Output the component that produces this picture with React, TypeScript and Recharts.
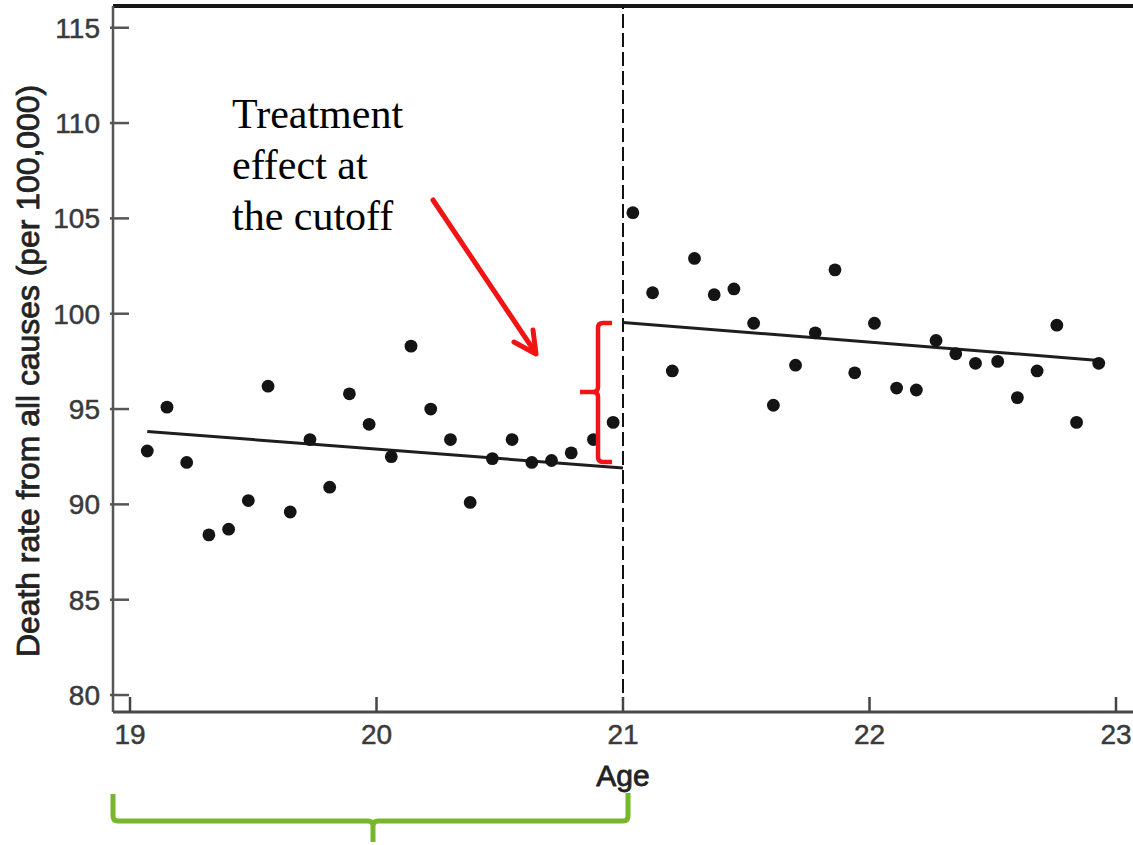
import React from 'react';
import { ScatterChart, Scatter, XAxis, YAxis, ReferenceLine } from 'recharts';

// binned death rates, 30-day cells on each side of the 21st birthday
const leftAge = [19.07, 19.15, 19.23, 19.32, 19.40, 19.48, 19.56, 19.65, 19.73, 19.81, 19.89, 19.97,
  20.06, 20.14, 20.22, 20.30, 20.38, 20.47, 20.55, 20.63, 20.71, 20.79, 20.88, 20.96];
const leftRate = [92.8, 95.1, 92.2, 88.4, 88.7, 90.2, 96.2, 89.6, 93.4, 90.9, 95.8, 94.2,
  92.5, 98.3, 95.0, 93.4, 90.1, 92.4, 93.4, 92.2, 92.3, 92.7, 93.4, 94.3];

const rightAge = [21.04, 21.12, 21.20, 21.29, 21.37, 21.45, 21.53, 21.61, 21.70, 21.78, 21.86, 21.94,
  22.02, 22.11, 22.19, 22.27, 22.35, 22.43, 22.52, 22.60, 22.68, 22.76, 22.84, 22.93];
const rightRate = [105.3, 101.1, 97.0, 102.9, 101.0, 101.3, 99.5, 95.2, 97.3, 99.0, 102.3, 96.9,
  99.5, 96.1, 96.0, 98.6, 97.9, 97.4, 97.5, 95.6, 97.0, 99.4, 94.3, 97.4];

// fitted lines (end points)
const fitLeftAge = [19.07, 21.0];
const fitLeftRate = [93.82, 91.91];
const fitRightAge = [21.0, 22.93];
const fitRightRate = [99.54, 97.55];

const xTicks = [19, 20, 21, 22, 23];
const yTicks = [80, 85, 90, 95, 100, 105, 110, 115];
const cutoff = 21;

const toPoints = (xs: number[], ys: number[]) => xs.map((age, i) => ({ age, rate: ys[i] }));

const W = 1133;
const H = 845;
const TOP = 6;
const LEFT = 113;
const X_AXIS_H = 133;
const X_DOMAIN: [number, number] = [18.931, 23.069];
const Y_DOMAIN: [number, number] = [79.11, 116.14];

const Dot = (p: any) => <circle cx={p.cx} cy={p.cy} r={6.4} fill="#141414" />;
const NoDot = () => <g />;

const YTick = (p: any) => (
  <g>
    <line x1={p.x - 3} x2={p.x + 16} y1={p.y} y2={p.y} stroke="#555" strokeWidth={2.5} />
    <text x={p.x - 13} y={p.y} dy="0.35em" textAnchor="end" fontSize={28} fill="#3a3a3a"
      stroke="#3a3a3a" strokeWidth={0.5}>
      {p.payload.value}
    </text>
  </g>
);

const XTick = (p: any) => (
  <g>
    <line x1={p.x} x2={p.x} y1={p.y} y2={p.y - 15} stroke="#444" strokeWidth={2.5} />
    <text x={p.x} y={p.y + 32} textAnchor="middle" fontSize={28} fill="#3a3a3a"
      stroke="#3a3a3a" strokeWidth={0.5}>
      {p.payload.value}
    </text>
  </g>
);

export default function App() {
  return (
    <div style={{ position: 'absolute', left: 0, top: 0, width: W, height: H, background: '#fff',
      fontFamily: '"Liberation Sans", Arial, sans-serif' }}>
      <ScatterChart width={W} height={H} margin={{ top: TOP, right: 0, bottom: 0, left: 0 }}>
        <XAxis dataKey="age" type="number" domain={X_DOMAIN} allowDataOverflow ticks={xTicks}
          interval={0} height={X_AXIS_H} tickSize={0} tickMargin={0} tickLine={false}
          axisLine={{ stroke: '#4a4a4a', strokeWidth: 3 }} tick={<XTick />}
          label={{
            content: (lp: any) => (
              <text x={lp.viewBox.x + lp.viewBox.width / 2} y={lp.viewBox.y + 74} textAnchor="middle"
                fontSize={30} fill="#222" stroke="#222" strokeWidth={0.8}>Age</text>
            ),
          }} />
        <YAxis dataKey="rate" type="number" domain={Y_DOMAIN} allowDataOverflow ticks={yTicks}
          interval={0} width={LEFT} tickSize={0} tickMargin={0} tickLine={false}
          axisLine={{ stroke: '#555', strokeWidth: 2.5 }} tick={<YTick />}
          label={{
            content: (lp: any) => {
              const cy = lp.viewBox.y + lp.viewBox.height / 2 + 12;
              return (
                <text x={39} y={cy} transform={`rotate(-90 39 ${cy})`} textAnchor="middle"
                  fontSize={31} fill="#222" stroke="#222" strokeWidth={0.8}
                  textLength={572} lengthAdjust="spacingAndGlyphs">
                  Death rate from all causes (per 100,000)
                </text>
              );
            },
          }} />
        <ReferenceLine y={Y_DOMAIN[1]} stroke="#161616" strokeWidth={4} />
        <ReferenceLine x={cutoff} stroke="#111" strokeWidth={2} strokeDasharray="14 5" />
        <Scatter data={toPoints(fitLeftAge, fitLeftRate)} line={{ stroke: '#1e1e1e', strokeWidth: 3 }}
          shape={<NoDot />} isAnimationActive={false} />
        <Scatter data={toPoints(fitRightAge, fitRightRate)} line={{ stroke: '#1e1e1e', strokeWidth: 3 }}
          shape={<NoDot />} isAnimationActive={false} />
        <Scatter data={toPoints(leftAge, leftRate)} shape={<Dot />} isAnimationActive={false} />
        <Scatter data={toPoints(rightAge, rightRate)} shape={<Dot />} isAnimationActive={false} />
      </ScatterChart>

      <svg width={W} height={H} style={{ position: 'absolute', left: 0, top: 0, pointerEvents: 'none' }}>
        <g fontFamily='"Liberation Serif", "Times New Roman", serif' fontSize={42} fill="#000">
          <text x={232} y={128}>Treatment</text>
          <text x={232} y={179}>effect at</text>
          <text x={232} y={230}>the cutoff</text>
        </g>
        {/* red arrow */}
        <g stroke="#f01414" strokeWidth={5} strokeLinecap="round" fill="none">
          <line x1={433} y1={200} x2={535} y2={352} />
          <polyline points="514,342 536,354 533,330" strokeLinejoin="round" />
        </g>
        {/* red bracket */}
        <path d="M612 323 H603 Q598 323 598 328 V387 Q598 392 593 392 H580 M593 392 Q598 392 598 397 V457 Q598 462 603 462 H612"
          stroke="#f01414" strokeWidth={4.5} fill="none" />
        {/* green bracket */}
        <path d="M113 794 V816 Q113 821 118 821 H368 Q373 821 373 826 V842 M373 826 Q373 821 378 821 H623 Q628 821 628 816 V793"
          stroke="#76b82a" strokeWidth={5} fill="none" />
      </svg>
    </div>
  );
}
